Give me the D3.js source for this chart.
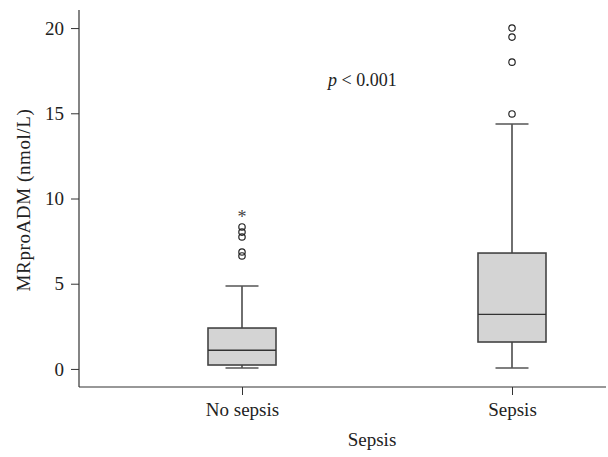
<!DOCTYPE html>
<html>
<head>
<meta charset="utf-8">
<script src="https://cdn.jsdelivr.net/npm/d3@7"></script>
<style>
  body { margin: 0; background: #fff; }
  svg { display: block; }
</style>
</head>
<body>
<div class="svg-container"></div>
<script>
    // data
    const groups = ["No sepsis", "Sepsis"];
    const q1 = [0.23, 1.58];
    const medians = [1.1, 3.2];
    const q3 = [2.4, 6.8];
    const whiskerLow = [0.06, 0.06];
    const whiskerHigh = [4.87, 14.37];
    const outliers = [[6.63, 6.86, 7.74, 8.03, 8.33], [14.96, 18.0, 19.47, 20.0]];
    const extremes = [[9.03], []];
    const yTicks = [0, 5, 10, 15, 20];

    const chart_width = 608;
    const chart_height = 457;
    const font = "'Liberation Serif', 'DejaVu Serif', serif";
    const fs = '19px';

    const svg = d3.select('.svg-container').append('svg')
        .attr('width', chart_width).attr('height', chart_height)
        .style('font-family', font);

    const y = d3.scaleLinear().domain([-1.06, 21.06]).range([387, 10]);
    const x = d3.scalePoint().domain(groups).range([107, 647]).padding(0.5);

    const boxW = 68, capW = 33;
    const ink = '#333';

    // y axis
    const yAxis = svg.append('g')
        .attr('transform', 'translate(79,0)')
        .call(d3.axisLeft(y).tickValues(yTicks).tickSize(8).tickPadding(7));
    yAxis.select('.domain').remove();
    yAxis.selectAll('line').attr('stroke', ink);
    yAxis.selectAll('text').style('font-size', fs).style('font-family', font).attr('fill', '#222');
    svg.append('line').attr('x1', 79).attr('x2', 79).attr('y1', 10).attr('y2', 387)
        .attr('stroke', ink).attr('stroke-width', 1.2);

    // x axis
    const xAxis = svg.append('g')
        .attr('transform', 'translate(0,387)')
        .call(d3.axisBottom(x).tickSize(8).tickPadding(8));
    xAxis.select('.domain').remove();
    xAxis.selectAll('line').attr('stroke', ink);
    xAxis.selectAll('text').style('font-size', fs).style('font-family', font).attr('fill', '#222');
    svg.append('line').attr('x1', 79).attr('x2', 606).attr('y1', 387).attr('y2', 387)
        .attr('stroke', ink).attr('stroke-width', 1.2);

    // axis titles
    svg.append('text')
        .attr('x', 372).attr('y', 446)
        .attr('text-anchor', 'middle')
        .style('font-size', fs).attr('fill', '#222')
        .text('Sepsis');
    svg.append('text')
        .attr('transform', 'translate(30,200) rotate(-90)')
        .attr('text-anchor', 'middle')
        .style('font-size', fs).style('letter-spacing', '0.6px').attr('fill', '#222')
        .text('MRproADM (nmol/L)');

    // p value
    const pt = svg.append('text')
        .attr('x', 328).attr('y', 86)
        .style('font-size', '18px').attr('fill', '#222');
    pt.append('tspan').style('font-style', 'italic').text('p');
    pt.append('tspan').text(' < 0.001');

    // boxes
    const g = svg.append('g');
    groups.forEach((name, i) => {
        const cx = x(name);
        // whiskers
        g.append('line').attr('x1', cx).attr('x2', cx)
            .attr('y1', y(q3[i])).attr('y2', y(whiskerHigh[i]))
            .attr('stroke', '#222').attr('stroke-width', 1.3);
        g.append('line').attr('x1', cx).attr('x2', cx)
            .attr('y1', y(q1[i])).attr('y2', y(whiskerLow[i]))
            .attr('stroke', '#222').attr('stroke-width', 1.3);
        [whiskerHigh[i], whiskerLow[i]].forEach(v => {
            g.append('line').attr('x1', cx - capW / 2).attr('x2', cx + capW / 2)
                .attr('y1', y(v)).attr('y2', y(v))
                .attr('stroke', '#555').attr('stroke-width', 1.5);
        });
        // box
        g.append('rect')
            .attr('x', cx - boxW / 2).attr('width', boxW)
            .attr('y', y(q3[i])).attr('height', y(q1[i]) - y(q3[i]))
            .attr('fill', '#d4d4d4').attr('stroke', '#444').attr('stroke-width', 1.6);
        g.append('line').attr('x1', cx - boxW / 2).attr('x2', cx + boxW / 2)
            .attr('y1', y(medians[i])).attr('y2', y(medians[i]))
            .attr('stroke', '#333').attr('stroke-width', 1.4);
        // outliers
        g.selectAll(null).data(outliers[i]).enter().append('circle')
            .attr('cx', cx).attr('cy', d => y(d)).attr('r', 3.2)
            .attr('fill', 'none').attr('stroke', '#222').attr('stroke-width', 1.2);
        g.selectAll(null).data(extremes[i]).enter().append('text')
            .attr('x', cx).attr('y', d => y(d) + 8)
            .attr('text-anchor', 'middle')
            .style('font-size', '18px').style('font-family', font)
            .attr('fill', '#444')
            .text('*');
    });
</script>
</body>
</html>
